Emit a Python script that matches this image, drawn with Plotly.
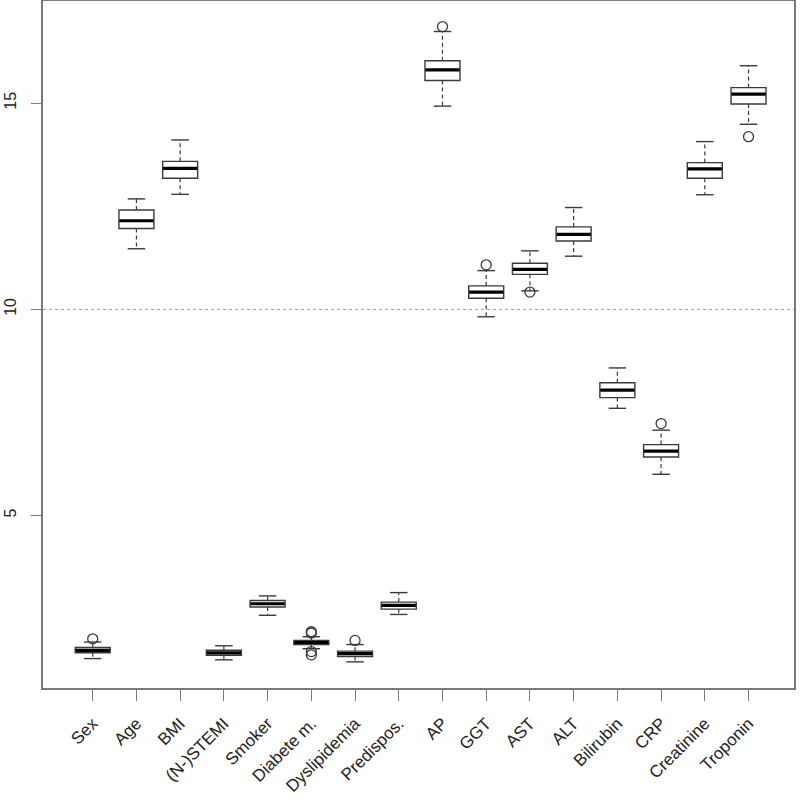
import plotly.graph_objects as go

categories = ["Sex", "Age", "BMI", "(N-)STEMI", "Smoker", "Diabete m.", "Dyslipidemia",
              "Predispos.", "AP", "GGT", "AST", "ALT", "Bilirubin", "CRP", "Creatinine", "Troponin"]

lower_whisker = [1.53, 11.47, 12.79, 1.50, 2.58, 1.77, 1.45, 2.60, 14.93, 9.82, 10.45, 11.29, 7.60, 6.00, 12.78, 14.49]
q1_values     = [1.67, 11.96, 13.18, 1.61, 2.78, 1.87, 1.58, 2.73, 15.55, 10.27, 10.85, 11.66, 7.86, 6.42, 13.18, 14.98]
medians       = [1.73, 12.15, 13.42, 1.67, 2.86, 1.92, 1.65, 2.82, 15.81, 10.42, 10.97, 11.82, 8.04, 6.56, 13.41, 15.22]
q3_values     = [1.80, 12.41, 13.59, 1.73, 2.94, 1.97, 1.71, 2.90, 16.03, 10.57, 11.12, 12.00, 8.22, 6.72, 13.56, 15.38]
upper_whisker = [1.93, 12.68, 14.11, 1.84, 3.05, 2.06, 1.87, 3.13, 16.74, 10.94, 11.42, 12.47, 8.58, 7.07, 14.07, 15.91]

outlier_category = ["Sex", "Diabete m.", "Diabete m.", "Diabete m.", "Diabete m.", "Dyslipidemia",
                    "AP", "GGT", "AST", "CRP", "Troponin"]
outlier_values   = [2.01, 2.18, 2.15, 1.70, 1.62, 1.97, 16.86, 11.08, 10.42, 7.23, 14.19]

y_tick_values = [5, 10, 15]
reference_level = 10

positions = list(range(1, len(categories) + 1))
pos_of = {c: p for c, p in zip(categories, positions)}

LINE = "#3a3a3a"
FRAME = "#7a7a7a"
FONT = "Liberation Sans, Arial, Helvetica, sans-serif"

fig = go.Figure()

# dashed whiskers
wx, wy = [], []
for p, lo, a, b, hi in zip(positions, lower_whisker, q1_values, q3_values, upper_whisker):
    wx += [p, p, None, p, p, None]
    wy += [b, hi, None, a, lo, None]
fig.add_trace(go.Scatter(x=wx, y=wy, mode="lines", hoverinfo="skip",
                         line=dict(color=LINE, width=1.2, dash="4px,3px"), showlegend=False))

# staples
fig.add_trace(go.Scatter(x=positions + positions, y=lower_whisker + upper_whisker, mode="markers",
                         marker=dict(symbol="line-ew", size=12.5, line=dict(color=LINE, width=1.4)),
                         showlegend=False, hoverinfo="skip"))

# boxes
fig.add_trace(go.Box(x=positions, q1=q1_values, median=medians, q3=q3_values,
                     lowerfence=q1_values, upperfence=q3_values, width=0.8, whiskerwidth=0,
                     fillcolor="white", line=dict(color=LINE, width=1.4),
                     boxpoints=False, showlegend=False))

# thick medians
fig.add_trace(go.Scatter(x=positions, y=medians, mode="markers",
                         marker=dict(symbol="line-ew", size=24.3, line=dict(color="black", width=3.2)),
                         showlegend=False))

# outliers
fig.add_trace(go.Scatter(x=[pos_of[c] for c in outlier_category], y=outlier_values, mode="markers",
                         marker=dict(symbol="circle-open", size=10, color=LINE, line=dict(width=1.3)),
                         showlegend=False))

fig.add_hline(y=reference_level, line=dict(color="#999999", width=1, dash="dot"), layer="below")

fig.update_layout(
    width=800, height=803,
    margin=dict(l=43, r=6, t=1, b=115, autoexpand=False),
    plot_bgcolor="white", paper_bgcolor="white",
    font=dict(family=FONT, size=16, color="#222222"),
)
fig.update_xaxes(
    range=[-0.137, 17.04], tickmode="array", tickvals=positions, ticktext=categories,
    tickangle=-45, ticks="outside", ticklen=11, tickcolor=FRAME, tickwidth=1.2,
    showgrid=False, zeroline=False, showline=True, linecolor=FRAME, linewidth=1.8, mirror=True,
    tickfont=dict(size=17), automargin=False, ticklabelstandoff=6,
)
fig.update_yaxes(
    range=[0.816, 17.48], tickmode="array", tickvals=y_tick_values,
    tickangle=-90, ticks="outside", ticklen=10, tickcolor=FRAME, tickwidth=1.2,
    ticklabelstandoff=9, automargin=False,
    showgrid=False, zeroline=False, showline=True, linecolor=FRAME, linewidth=1.8, mirror=True,
    tickfont=dict(size=16),
)

fig.write_html("out.html", config={"displayModeBar": False},
               post_script="document.body.style.margin='0';document.body.style.overflow='hidden';")
